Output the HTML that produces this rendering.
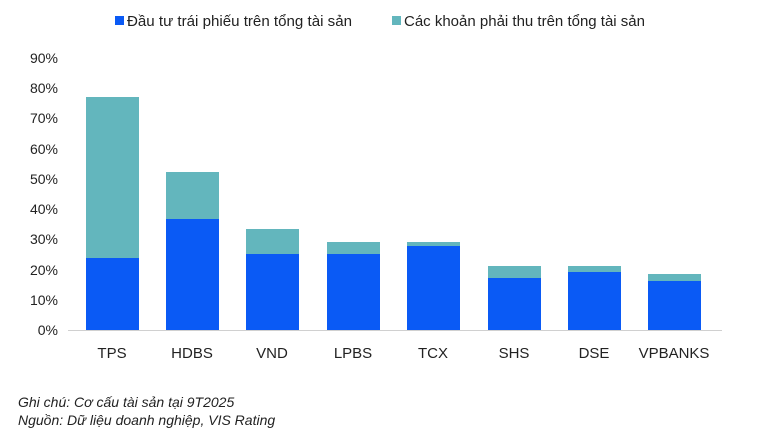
<!DOCTYPE html>
<html><head><meta charset="utf-8"><style>
body{margin:0;background:#fff}
svg{display:block}
text{font-family:"Liberation Sans","DejaVu Sans",sans-serif;fill:#222}
</style></head><body>
<svg width="775" height="438" viewBox="0 0 775 438">
<rect x="115" y="16" width="9" height="9" fill="#0a5af5"/>
<text x="127" y="26" font-size="15" textLength="225" lengthAdjust="spacingAndGlyphs">Đầu tư trái phiếu trên tổng tài sản</text>
<rect x="392" y="16" width="9" height="9" fill="#63b6bd"/>
<text x="404" y="26" font-size="15" textLength="241" lengthAdjust="spacingAndGlyphs">Các khoản phải thu trên tổng tài sản</text>
<g font-size="14" text-anchor="end">
<text x="58" y="335">0%</text><text x="58" y="305">10%</text><text x="58" y="275">20%</text>
<text x="58" y="244">30%</text><text x="58" y="214">40%</text><text x="58" y="184">50%</text>
<text x="58" y="154">60%</text><text x="58" y="123">70%</text><text x="58" y="93">80%</text>
<text x="58" y="63">90%</text></g>
<line x1="68" y1="330.5" x2="722" y2="330.5" stroke="#d0d0d0"/>
<g fill="#63b6bd">
<rect x="86" y="97" width="53" height="161"/>
<rect x="166" y="172" width="53" height="47"/>
<rect x="246" y="229" width="53" height="25"/>
<rect x="327" y="242" width="53" height="12"/>
<rect x="407" y="242" width="53" height="4"/>
<rect x="488" y="266" width="53" height="12"/>
<rect x="568" y="266" width="53" height="6"/>
<rect x="648" y="274" width="53" height="7"/>
</g>
<g fill="#0a5af5">
<rect x="86" y="258" width="53" height="72"/>
<rect x="166" y="219" width="53" height="111"/>
<rect x="246" y="254" width="53" height="76"/>
<rect x="327" y="254" width="53" height="76"/>
<rect x="407" y="246" width="53" height="84"/>
<rect x="488" y="278" width="53" height="52"/>
<rect x="568" y="272" width="53" height="58"/>
<rect x="648" y="281" width="53" height="49"/>
</g>
<g font-size="15" text-anchor="middle">
<text x="112" y="358">TPS</text><text x="192" y="358">HDBS</text><text x="272" y="358">VND</text>
<text x="353" y="358">LPBS</text><text x="433" y="358">TCX</text><text x="514" y="358">SHS</text>
<text x="594" y="358">DSE</text><text x="674" y="358">VPBANKS</text></g>
<g font-size="14" font-style="italic">
<text x="18" y="407">Ghi chú: Cơ cấu tài sản tại 9T2025</text>
<text x="18" y="425">Nguồn: Dữ liệu doanh nghiệp, VIS Rating</text></g>
</svg>
</body></html>
